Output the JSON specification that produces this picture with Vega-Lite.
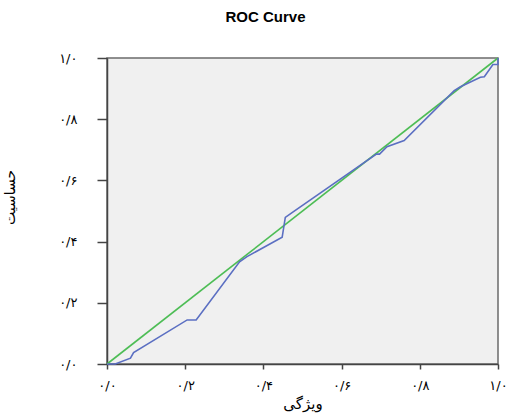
{
  "$schema": "https://vega.github.io/schema/vega-lite/v6.json",
  "autosize": {"type": "none"},
  "padding": {"left": 107, "top": 58, "right": 15, "bottom": 53},
  "width": 391,
  "height": 306,
  "background": "white",
  "title": {
    "text": "ROC Curve",
    "font": "Liberation Sans",
    "fontSize": 15,
    "fontWeight": "bold",
    "color": "#000000",
    "anchor": "middle",
    "dx": -37,
    "offset": 27
  },
  "config": {
    "view": {"fill": "#f0f0f0", "stroke": "#6b6b6b", "strokeWidth": 1.5}
  },
  "datasets": {
    "roc": [
      {"spec": 0.0, "sens": 0.0},
      {"spec": 0.021, "sens": 0.0},
      {"spec": 0.06, "sens": 0.019},
      {"spec": 0.068, "sens": 0.037},
      {"spec": 0.205, "sens": 0.144},
      {"spec": 0.228, "sens": 0.144},
      {"spec": 0.339, "sens": 0.334},
      {"spec": 0.358, "sens": 0.351},
      {"spec": 0.448, "sens": 0.414},
      {"spec": 0.456, "sens": 0.479},
      {"spec": 0.477, "sens": 0.498},
      {"spec": 0.689, "sens": 0.686},
      {"spec": 0.697, "sens": 0.686},
      {"spec": 0.716, "sens": 0.71},
      {"spec": 0.76, "sens": 0.73},
      {"spec": 0.888, "sens": 0.893},
      {"spec": 0.904, "sens": 0.906},
      {"spec": 0.955, "sens": 0.937},
      {"spec": 0.965, "sens": 0.939},
      {"spec": 0.987, "sens": 0.979},
      {"spec": 1.0, "sens": 0.979},
      {"spec": 1.0, "sens": 1.0}
    ],
    "ref": [
      {"spec": 0.0, "sens": 0.0},
      {"spec": 1.0, "sens": 1.0}
    ]
  },
  "layer": [
    {
      "data": {"name": "ref"},
      "mark": {"type": "line", "color": "#4dbd55", "strokeWidth": 1.6},
      "encoding": {
        "x": {"field": "spec", "type": "quantitative", "sort": null},
        "y": {"field": "sens", "type": "quantitative"}
      }
    },
    {
      "data": {"name": "roc"},
      "mark": {"type": "line", "color": "#5b6fc2", "strokeWidth": 1.6},
      "encoding": {
        "order": {"field": "sens", "type": "quantitative"},
        "x": {
          "field": "spec",
          "type": "quantitative",
          "scale": {"domain": [0, 1], "nice": false, "zero": false},
          "axis": {
            "title": "ویژگی",
            "titleFont": "DejaVu Sans",
            "titleFontSize": 15,
            "titleFontWeight": "normal",
            "titleColor": "#000000",
            "titlePadding": 4,
            "values": [0, 0.2, 0.4, 0.6, 0.8, 1.0],
            "labelExpr": "['۰/۰','','۰/۲','','۰/۴','','۰/۶','','۰/۸','','۱/۰'][round(datum.value*10)]",
            "labelFont": "DejaVu Sans",
            "labelFontSize": 13,
            "labelColor": "#000000",
            "labelPadding": 10,
            "labelFlush": false,
            "tickSize": 5,
            "tickColor": "#444444",
            "tickWidth": 1.5,
            "domainColor": "#444444",
            "domainWidth": 1.5,
            "grid": false
          }
        },
        "y": {
          "field": "sens",
          "type": "quantitative",
          "scale": {"domain": [0, 1], "nice": false, "zero": false},
          "axis": {
            "title": "حساسیت",
            "titleFont": "DejaVu Sans",
            "titleFontSize": 14,
            "titleFontWeight": "normal",
            "titleColor": "#000000",
            "titleY": 139,
            "titleX": -90,
            "values": [0, 0.2, 0.4, 0.6, 0.8, 1.0],
            "labelExpr": "['۰/۰','','۰/۲','','۰/۴','','۰/۶','','۰/۸','','۱/۰'][round(datum.value*10)]",
            "labelFont": "DejaVu Sans",
            "labelFontSize": 13,
            "labelColor": "#000000",
            "labelPadding": 20,
            "labelFlush": false,
            "tickSize": 10,
            "tickColor": "#444444",
            "tickWidth": 1.5,
            "domainColor": "#444444",
            "domainWidth": 1.5,
            "grid": false
          }
        }
      }
    }
  ]
}
